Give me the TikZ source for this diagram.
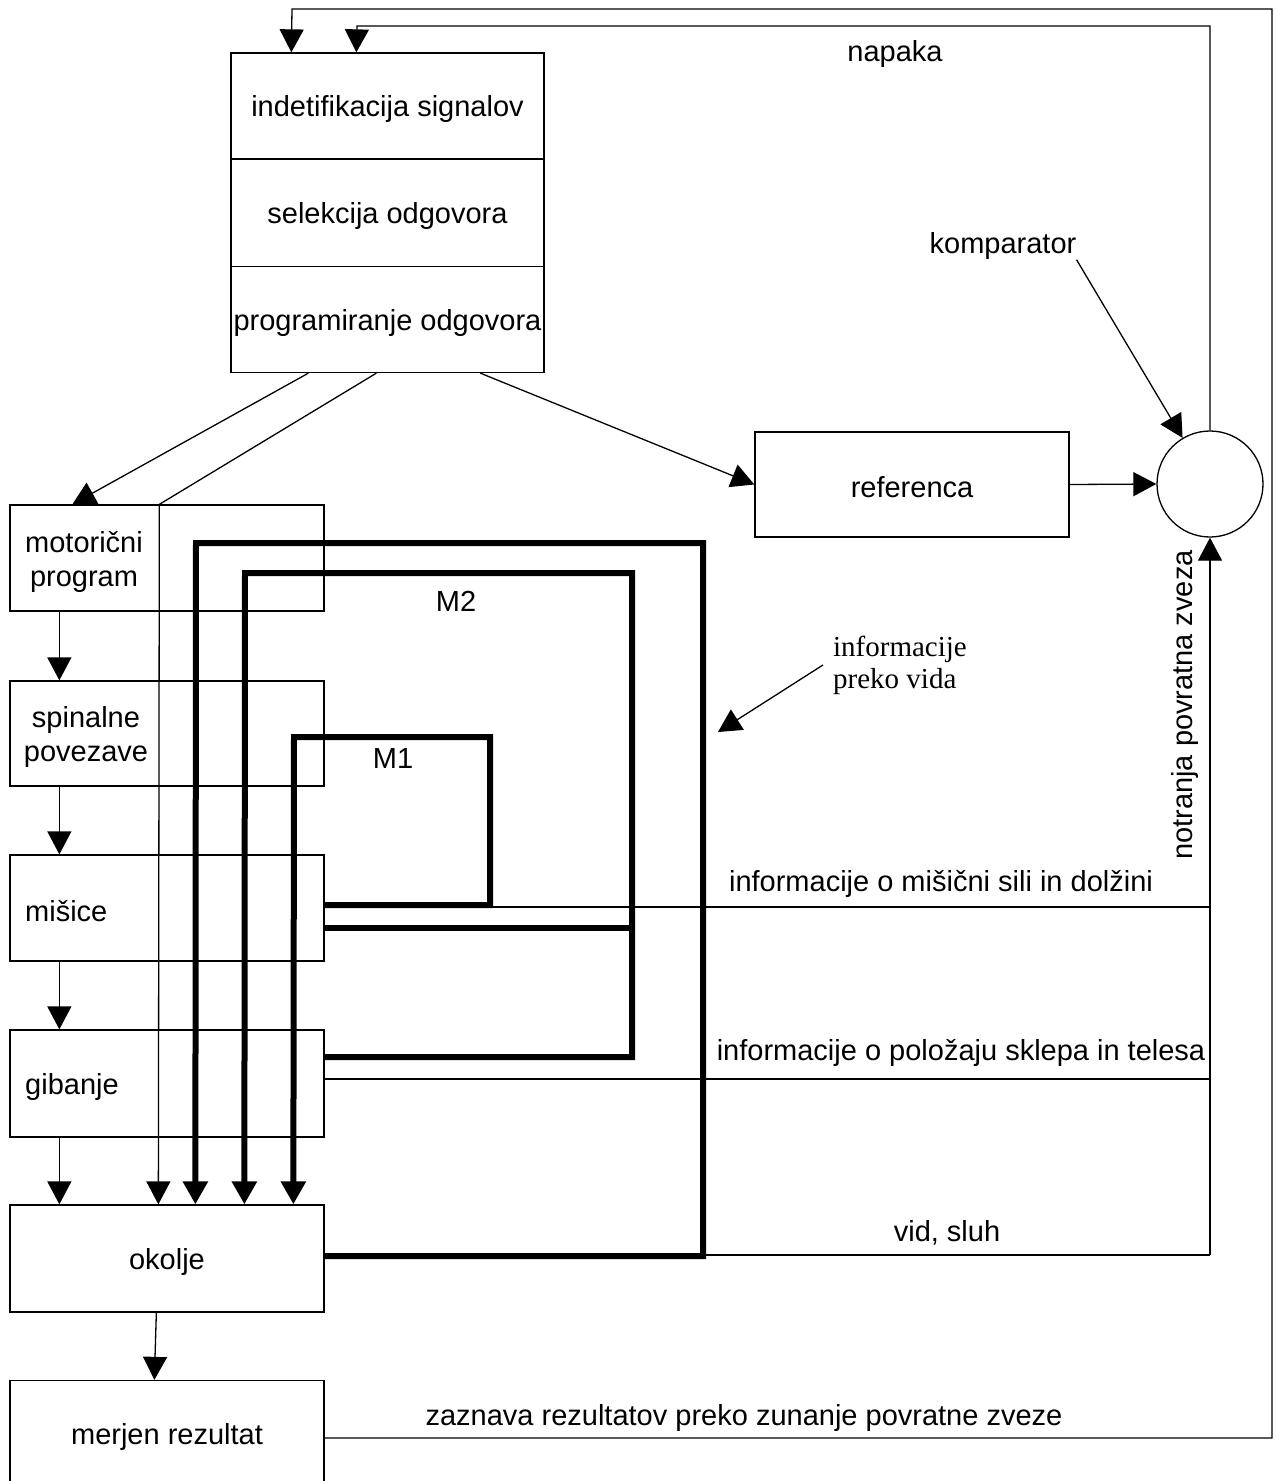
\documentclass[tikz,border=0pt]{standalone}
\usepackage{fontspec}
\setmainfont{Liberation Sans}
\newfontfamily\serifo{Liberation Serif}
\usetikzlibrary{arrows.meta}
\newcommand\lowertxt[1]{\raisebox{-3pt}[\height][\depth]{#1}}
\begin{document}
\begin{tikzpicture}[x=1pt,y=-1pt,
  font=\fontsize{29}{34}\selectfont,
  lnthin/.style={line width=1.3pt},
  lnthick/.style={line width=6pt},
  arr/.style={-{Triangle[length=23pt,width=24pt]}},
  box/.style={draw, line width=1.3pt, rectangle, inner sep=0pt},
  lbl/.style={inner sep=0pt}]
\fill[white] (0,0) rectangle (1275,1481);
\useasboundingbox (0,0) rectangle (1275,1481);

% top stacked box
\node[box, minimum width=313pt, minimum height=106pt] (sig) at (387.5,106) {\lowertxt{indetifikacija signalov}};
\node[box, minimum width=313pt, minimum height=107pt] (sel) at (387.5,213) {\lowertxt{selekcija odgovora}};
\node[box, minimum width=313pt, minimum height=106pt] (prog) at (387.5,319.5) {\lowertxt{programiranje odgovora}};

% reference and comparator
\node[box, minimum width=314pt, minimum height=105pt] (ref) at (912,484.5) {\lowertxt{referenca}};
\node[draw, line width=1.3pt, circle, minimum size=106pt, inner sep=0pt] (comp) at (1210,484) {};

% left column boxes
\node[box, minimum width=314pt, minimum height=106pt] (mot) at (167,558) {};
\node[box, minimum width=314pt, minimum height=105pt] (spi) at (167,733.5) {};
\node[box, minimum width=314pt, minimum height=106pt] (mis) at (167,908) {};
\node[box, minimum width=314pt, minimum height=107pt] (gib) at (167,1083.5) {};
\node[box, minimum width=314pt, minimum height=107pt] (oko) at (167,1258.5) {\lowertxt{okolje}};
\node[box, minimum width=314pt, minimum height=107pt] (mer) at (167,1434) {\lowertxt{merjen rezultat}};

\node[lbl, align=center] (motT) at (84,562) {motori\v{c}ni\\program};
\node[lbl, align=center] (spiT) at (86,737) {spinalne\\povezave};
\node[lbl, anchor=west] (misT) at (25,911) {mi\v{s}ice};
\node[lbl, anchor=west] (gibT) at (25,1087) {gibanje};

% labels
\node[lbl] (nap) at (895,54) {napaka};
\node[lbl] (kom) at (1003,246) {komparator};
\node[lbl] (M2) at (456,601) {M2};
\node[lbl] (M1) at (393,759) {M1};
\node[lbl] (imis) at (941,884) {informacije o mi\v{s}i\v{c}ni sili in dol\v{z}ini};
\node[lbl] (ipol) at (961,1053) {informacije o polo\v{z}aju sklepa in telesa};
\node[lbl] (vid) at (947,1233) {vid, sluh};
\node[lbl] (zaz) at (744,1418) {zaznava rezultatov preko zunanje povratne zveze};
\node[lbl, rotate=90] (notr) at (1185,705) {notranja povratna zveza};
\node[lbl, align=left, font=\serifo\fontsize{29}{32}\selectfont] (ipv) at (900,665) {informacije\\preko vida};

% named corner coordinates
\coordinate (o1) at (1272,1438);
\coordinate (o2) at (1272,9);
\coordinate (o3) at (292,9);
\coordinate (n1) at (1210,26);
\coordinate (n2) at (357,26);
\coordinate (fbM) at (1210,907);
\coordinate (fbG) at (1210,1079);
\coordinate (fbV) at (1210,1255);
\coordinate (m1a) at (490,905);
\coordinate (m1b) at (490,737);
\coordinate (m1c) at (294,737);
\coordinate (m2a) at (632,1057);
\coordinate (m2b) at (632,573);
\coordinate (m2c) at (245,573);
\coordinate (m2d) at (632,928);
\coordinate (vA) at (703,1256);
\coordinate (vB) at (703,543);
\coordinate (vC) at (196,543);
\coordinate (ipvt) at (718,732);

% outer feedback
\draw[lnthin, arr] ([yshift=-4pt]mer.east) -- (o1) -- (o2) -- (o3) -- ([xshift=61pt]sig.north west);
% error (napaka)
\draw[lnthin, arr] (comp.north) -- (n1) -- (n2) -- ([xshift=126pt]sig.north west);
% comparator pointer
\draw[lnthin, arr] (kom.south east) -- (comp);
% reference to comparator
\draw[lnthin, arr] (ref.east) -- (comp.west);
% programming outputs
\draw[lnthin, arr] ([xshift=250pt]prog.south west) -- (ref.west);
\draw[lnthin, arr] ([xshift=78pt]prog.south west) -- ([xshift=63pt]mot.north west);
\draw[lnthin, arr] ([xshift=146pt]prog.south west) -- ([xshift=150pt]mot.north west) -- ([xshift=149pt]oko.north west);
% left chain
\draw[lnthin, arr] ([xshift=50pt]mot.south west) -- ([xshift=50pt]spi.north west);
\draw[lnthin, arr] ([xshift=50pt]spi.south west) -- ([xshift=50pt]mis.north west);
\draw[lnthin, arr] ([xshift=50pt]mis.south west) -- ([xshift=50pt]gib.north west);
\draw[lnthin, arr] ([xshift=50pt]gib.south west) -- ([xshift=50pt]oko.north west);
\draw[lnthin, arr] ([xshift=147pt]oko.south west) -- ([xshift=145pt]mer.north west);

% thick loops
\draw[lnthick, arr] (vA -| oko.east) -- (vA) -- (vB) -- (vC) -- ([xshift=186pt]oko.north west);
\draw[lnthick, arr] (m2a -| gib.east) -- (m2a) -- (m2b) -- (m2c) -- ([xshift=235pt]oko.north west);
\draw[lnthick] (m2d -| mis.east) -- (m2d);
\draw[lnthick, arr] (m1a -| mis.east) -- (m1a) -- (m1b) -- (m1c) -- ([xshift=284pt]oko.north west);

% thin feedback lines
\draw[lnthin] ([yshift=-2pt]m1a) -- (fbM);
\draw[lnthin] (fbG -| gib.east) -- (fbG);
\draw[lnthin] ([yshift=1pt]vA) -- (fbV);
\draw[lnthin, arr] (fbV) -- (comp.south);

% vision pointer
\draw[lnthin, arr] ([xshift=-10pt]ipv.west) -- (ipvt);
\end{tikzpicture}
\end{document}
